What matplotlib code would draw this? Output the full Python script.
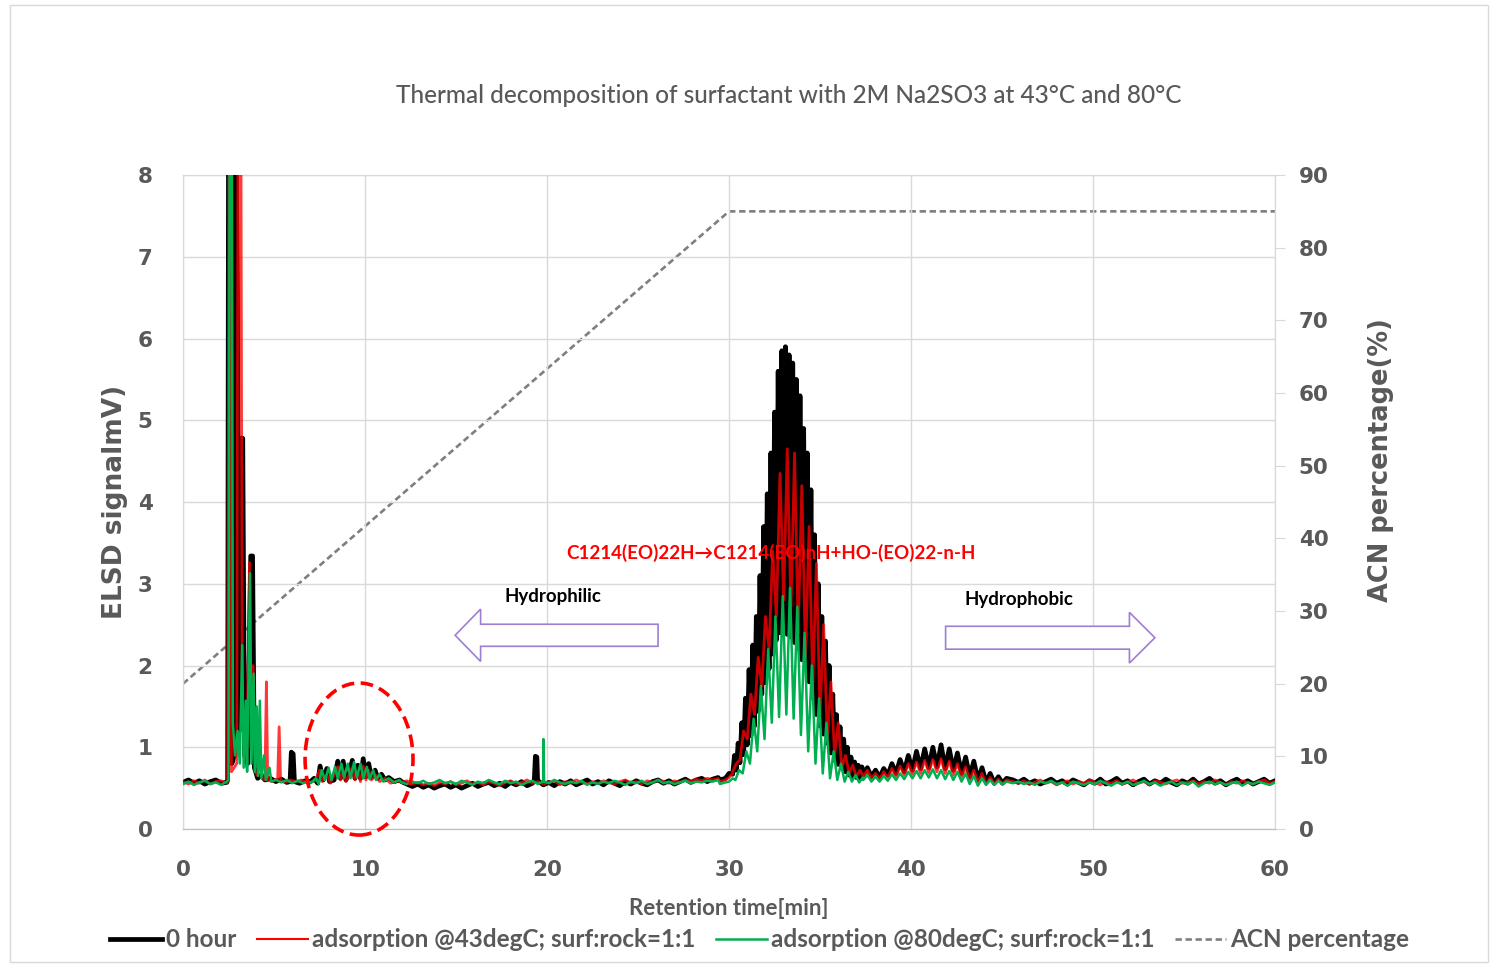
import numpy as np
import matplotlib
matplotlib.use("Agg")
import matplotlib.pyplot as plt
from matplotlib.patches import Ellipse, FancyArrow, Rectangle

# ---- baseline stretches, values in hundredths of mV ----
base_a_t = [0.0, 0.3, 0.6, 0.9, 1.2, 1.5, 1.8, 2.1, 2.4]
black_a = [57, 60, 56, 59, 55, 58, 60, 56, 57]
red_a = [58, 55, 59, 56, 60, 55, 58, 59, 56]
green_a = [55, 58, 54, 57, 59, 55, 57, 54, 58]

# 12.0 - 29.4 min
black_d = [58, 55, 52, 55, 51, 54, 50, 53, 55, 51, 54, 50, 53, 56, 52, 55, 57, 53, 56, 52,
           57, 54, 58, 53, 56, 59, 54, 57, 53, 58, 55, 59, 54, 57, 60, 55, 58, 54, 59, 56,
           53, 58, 55, 59, 56, 54, 58, 60, 56, 59, 55, 58, 61, 57, 60, 62, 58, 61, 63]
red_d = [57, 59, 55, 57, 54, 56, 53, 57, 55, 58, 54, 56, 59, 55, 57, 54, 58, 56, 53, 57,
         59, 55, 57, 60, 56, 58, 55, 57, 59, 54, 58, 56, 60, 57, 55, 58, 56, 59, 57, 55,
         58, 60, 56, 58, 55, 59, 57, 60, 58, 56, 59, 57, 60, 58, 61, 59, 62, 60, 62]
green_d = [57, 55, 58, 56, 59, 55, 57, 60, 56, 58, 55, 59, 57, 54, 58, 56, 60, 57, 55, 59,
           56, 58, 54, 57, 59, 55, 58, 56, 60, 57, 55, 58, 56, 59, 54, 57, 55, 58, 56, 59,
           57, 54, 58, 56, 59, 55, 57, 60, 56, 58, 55, 57, 59, 56, 58, 57, 59, 58, 60]

# 45.6 - 60 min
black_g = [60, 57, 61, 56, 59, 55, 58, 61, 56, 59, 55, 60, 57, 54, 59, 56, 61, 55, 58, 62,
           56, 59, 54, 58, 61, 55, 59, 56, 61, 57, 54, 59, 56, 61, 55, 58, 62, 56, 59, 54,
           58, 61, 56, 59, 55, 58, 61, 56, 59]
red_g = [58, 56, 59, 55, 57, 60, 56, 58, 54, 57, 59, 55, 58, 56, 60, 57, 54, 58, 56, 59,
         55, 57, 60, 56, 58, 54, 59, 57, 55, 58, 60, 56, 57, 59, 55, 58, 56, 60, 57, 54,
         58, 56, 59, 57, 55, 58, 60, 56, 58]
green_g = [56, 58, 55, 57, 54, 58, 56, 59, 55, 57, 53, 58, 56, 54, 57, 55, 59, 56, 53, 57,
           55, 58, 54, 56, 59, 55, 57, 53, 56, 58, 54, 57, 55, 58, 52, 56, 58, 55, 57, 54,
           56, 58, 53, 57, 55, 58, 56, 54, 57]

# ---- early peaks and the small oligomer bumps (time, mV) ----
black_early = [(2.45, 0.6), (2.5, 8.6), (2.62, 8.6), (2.68, 0.8), (2.82, 0.9), (2.88, 8.6),
               (2.95, 8.6), (3.08, 1.2), (3.18, 4.78), (3.28, 4.78), (3.38, 0.9), (3.55, 0.8),
               (3.72, 3.34), (3.82, 3.34), (3.92, 0.75), (4.1, 0.62), (4.3, 0.66), (4.5, 0.6),
               (4.8, 0.62), (5.1, 0.58), (5.4, 0.61), (5.7, 0.57), (5.88, 0.58), (5.95, 0.94),
               (6.05, 0.92), (6.12, 0.58), (6.4, 0.56), (6.7, 0.59),
               (7.0, 0.58), (7.2, 0.62), (7.4, 0.56), (7.53, 0.77), (7.7, 0.6), (7.9, 0.74),
               (8.05, 0.58), (8.3, 0.6), (8.5, 0.83), (8.65, 0.62), (8.8, 0.83), (8.95, 0.6),
               (9.15, 0.7), (9.3, 0.84), (9.45, 0.62), (9.6, 0.78), (9.75, 0.62), (9.9, 0.86),
               (10.05, 0.64), (10.2, 0.8), (10.35, 0.63), (10.55, 0.72), (10.7, 0.62),
               (10.9, 0.67), (11.1, 0.6), (11.3, 0.63), (11.6, 0.58), (11.9, 0.6),
               (19.3, 0.6), (19.36, 0.89), (19.44, 0.88), (19.48, 0.6),
               (29.5, 0.6), (29.8, 0.62), (30.0, 0.68)]
red_early = [(2.45, 0.6), (2.52, 8.6), (2.6, 8.6), (2.66, 0.7), (2.95, 0.8), (3.02, 8.6),
             (3.18, 8.6), (3.25, 1.5), (3.35, 1.0), (3.5, 0.75), (3.65, 3.26), (3.72, 1.0),
             (3.85, 2.0), (3.95, 0.7), (4.1, 0.65), (4.25, 0.9), (4.35, 0.62), (4.5, 0.6),
             (4.58, 1.8), (4.65, 0.6), (4.9, 0.58), (5.2, 0.62), (5.28, 1.25), (5.36, 0.6),
             (5.6, 0.57), (5.9, 0.6), (6.2, 0.58), (6.5, 0.6), (6.8, 0.57),
             (7.0, 0.57), (7.3, 0.6), (7.5, 0.72), (7.65, 0.58), (7.9, 0.66), (8.1, 0.56),
             (8.5, 0.76), (8.65, 0.6), (8.8, 0.72), (8.95, 0.58), (9.3, 0.75), (9.45, 0.6),
             (9.6, 0.7), (9.75, 0.58), (9.9, 0.77), (10.05, 0.6), (10.2, 0.72), (10.35, 0.6),
             (10.6, 0.66), (10.8, 0.58), (11.1, 0.62), (11.4, 0.56), (11.8, 0.59),
             (29.5, 0.58), (29.8, 0.6), (30.0, 0.63), (30.2, 0.68)]
green_early = [(2.5, 0.6), (2.56, 8.6), (2.68, 8.6), (2.74, 1.3), (2.85, 0.9), (3.0, 1.2),
               (3.12, 0.8), (3.25, 2.25), (3.33, 0.75), (3.45, 1.57), (3.52, 0.7), (3.68, 3.13),
               (3.76, 0.8), (3.88, 1.9), (3.95, 0.7), (4.05, 1.5), (4.12, 0.65), (4.22, 1.57),
               (4.3, 0.62), (4.45, 0.9), (4.55, 0.6), (4.75, 0.75), (4.85, 0.58), (5.1, 0.6),
               (5.4, 0.57), (5.7, 0.6), (6.0, 0.56), (6.3, 0.59), (6.6, 0.56), (6.9, 0.58),
               (7.0, 0.56), (7.3, 0.62), (7.45, 0.55), (7.62, 0.72), (7.8, 0.6), (8.0, 0.75),
               (8.15, 0.6), (8.35, 0.76), (8.5, 0.62), (8.7, 0.8), (8.85, 0.63), (9.05, 0.8),
               (9.2, 0.62), (9.4, 0.82), (9.55, 0.63), (9.75, 0.8), (9.9, 0.62), (10.1, 0.76),
               (10.25, 0.61), (10.45, 0.72), (10.6, 0.6), (10.8, 0.67), (11.0, 0.58),
               (11.3, 0.62), (11.6, 0.57), (11.9, 0.6),
               (19.76, 0.58), (19.8, 1.1), (19.84, 0.58),
               (29.5, 0.55), (29.8, 0.57), (30.0, 0.58), (30.2, 0.62)]

# ---- main EO oligomer peak (30-37 min): tooth apex and trough before it ----
# 0 hour trace is sampled more densely, its teeth merge into a solid band
black_main_t = [30.3, 30.5, 30.7, 30.9, 31.1, 31.3, 31.5, 31.7, 31.9, 32.1, 32.3, 32.5,
                32.7, 32.9, 33.1, 33.3, 33.5, 33.7, 33.9, 34.1, 34.3, 34.5, 34.7, 34.9,
                35.1, 35.3, 35.5, 35.7, 35.9, 36.1, 36.3, 36.5, 36.7, 36.9, 37.1, 37.3]
black_main = [0.9, 1.05, 1.3, 1.6, 1.95, 2.25, 2.6, 3.1, 3.7, 4.1, 4.6, 5.1,
              5.6, 5.85, 5.9, 5.8, 5.7, 5.5, 5.3, 4.9, 4.6, 4.15, 3.6, 3.0,
              2.6, 2.3, 2.0, 1.65, 1.4, 1.25, 1.1, 1.0, 0.88, 0.82, 0.78, 0.76]
black_main_low = [0.67, 0.72, 0.81, 0.91, 1.03, 1.14, 1.26, 1.44, 1.65, 1.79, 1.96, 2.14,
                  2.31, 2.4, 2.42, 2.38, 2.35, 2.28, 2.21, 2.07, 1.96, 1.8, 1.61, 1.4,
                  1.26, 1.16, 1.05, 0.93, 0.84, 0.79, 0.74, 0.7, 0.66, 0.64, 0.63, 0.62]
main_t = [30.4, 30.8, 31.2, 31.6, 32.0, 32.4, 32.8, 33.2, 33.6, 34.0, 34.4, 34.8,
          35.2, 35.6, 36.0, 36.4, 36.8, 37.2]
red_main = [0.8, 1.2, 1.65, 2.1, 2.6, 3.4, 4.35, 4.65, 4.6, 4.2, 3.7, 3.25,
            2.5, 1.8, 1.3, 0.9, 0.78, 0.72]
red_main_low = [0.7, 0.85, 1.1, 1.4, 1.75, 2.2, 2.6, 2.8, 2.7, 2.4, 2.1, 1.75,
                1.4, 1.1, 0.9, 0.75, 0.68, 0.64]
green_main_t = [30.55, 30.95, 31.35, 31.75, 32.15, 32.55, 32.95, 33.35, 33.75, 34.15,
                34.55, 34.95, 35.35, 35.75, 36.15, 36.55, 36.95, 37.35]
green_main = [0.72, 0.95, 1.35, 1.75, 2.2, 2.6, 2.85, 2.95, 2.72, 2.4, 2.0, 1.6,
              1.3, 0.95, 0.8, 0.7, 0.66, 0.63]
green_main_low = [0.6, 0.68, 0.8, 0.95, 1.1, 1.3, 1.37, 1.4, 1.35, 1.15, 0.95, 0.8,
                  0.68, 0.62, 0.6, 0.58, 0.58, 0.57]

# ---- second, smaller hump (38-45 min) ----
hump_t = [37.6, 38.05, 38.5, 38.95, 39.4, 39.85, 40.3, 40.75, 41.2, 41.65, 42.1, 42.55,
          43.0, 43.45, 43.9, 44.35, 44.8, 45.25]
black_hump = [0.75, 0.72, 0.74, 0.8, 0.85, 0.9, 0.95, 0.98, 1.0, 1.03, 0.98, 0.93,
              0.88, 0.83, 0.75, 0.68, 0.64, 0.62]
black_hump_low = [0.66, 0.64, 0.63, 0.66, 0.68, 0.7, 0.72, 0.74, 0.75, 0.76, 0.74, 0.72,
                  0.68, 0.64, 0.6, 0.57, 0.56, 0.56]
red_hump = [0.72, 0.68, 0.7, 0.74, 0.77, 0.8, 0.82, 0.84, 0.85, 0.86, 0.83, 0.8,
            0.76, 0.72, 0.68, 0.63, 0.61, 0.6]
red_hump_low = [0.64, 0.62, 0.61, 0.63, 0.64, 0.66, 0.67, 0.68, 0.69, 0.7, 0.68, 0.66,
                0.64, 0.6, 0.57, 0.55, 0.55, 0.55]
green_hump = [0.66, 0.64, 0.65, 0.67, 0.68, 0.7, 0.71, 0.72, 0.73, 0.72, 0.71, 0.7,
              0.68, 0.65, 0.62, 0.6, 0.59, 0.58]
green_hump_low = [0.6, 0.58, 0.58, 0.59, 0.6, 0.61, 0.62, 0.62, 0.63, 0.62, 0.61, 0.6,
                  0.58, 0.55, 0.53, 0.54, 0.54, 0.55]

# ---- ACN gradient ----
acn_t = [0, 30, 60]
acn_pct = [20, 85, 85]


def teeth(apex_t, apex_v, low_v, half):
    # trough a little before each apex
    t, v = [], []
    for at, av, lv in zip(apex_t, apex_v, low_v):
        t += [at - half, at]
        v += [lv, av]
    return t, v


def build(base_a, base_d, base_g, early, m_t, m_hi, m_lo, half, h_hi, h_lo):
    t = list(base_a_t) + list(np.linspace(12.0, 29.4, len(base_d))) + \
        list(np.linspace(45.6, 60.0, len(base_g)))
    v = [x / 100 for x in base_a + base_d + base_g]
    t += [p[0] for p in early]
    v += [p[1] for p in early]
    mt, mv = teeth(m_t, m_hi, m_lo, half)
    ht, hv = teeth(hump_t, h_hi, h_lo, 0.225)
    t += mt + ht
    v += mv + hv
    t = np.array(t)
    v = np.array(v)
    order = np.argsort(t, kind="stable")
    return t[order], v[order]


black_t, black_v = build(black_a, black_d, black_g, black_early, black_main_t,
                         black_main, black_main_low, 0.1, black_hump, black_hump_low)
red_t, red_v = build(red_a, red_d, red_g, red_early, main_t,
                     red_main, red_main_low, 0.2, red_hump, red_hump_low)
green_t, green_v = build(green_a, green_d, green_g, green_early, green_main_t,
                         green_main, green_main_low, 0.2, green_hump, green_hump_low)

GREY = "#595959"
GRID = "#d9d9d9"

fig = plt.figure(figsize=(14.93, 9.67), dpi=100)
fig.patches.append(Rectangle((10 / 1493, 5 / 967), 1478 / 1493, 957 / 967,
                             transform=fig.transFigure, fill=False,
                             edgecolor=GRID, lw=1))
ax = fig.add_axes([0.1226, 0.1427, 0.7314, 0.6763])
ax2 = ax.twinx()
ax.set_zorder(ax2.get_zorder() + 1)
ax.patch.set_visible(False)

l0, = ax.plot(black_t, black_v, color="black", lw=3.4, label="0 hour", zorder=3)
l1, = ax.plot(red_t, red_v, color="#ff0000", alpha=0.78, lw=2.0,
              label="adsorption @43degC; surf:rock=1:1", zorder=4)
l2, = ax.plot(green_t, green_v, color="#00b050", lw=1.8,
              label="adsorption @80degC; surf:rock=1:1", zorder=5)
l3, = ax2.plot(acn_t, acn_pct, color="#7f7f7f", lw=1.9, dashes=(2.4, 1.4),
               label="ACN percentage")

ax.set_xlim(0, 60)
ax.set_ylim(0, 8)
ax2.set_ylim(0, 90)
ax.set_xticks(range(0, 61, 10))
ax.set_yticks(range(0, 9))
ax2.set_yticks(range(0, 91, 10))
ax.grid(True, color=GRID, lw=1)
ax.set_axisbelow(True)

tick_font = dict(family="DejaVu Sans", weight="bold", size=15.5)
for a in (ax, ax2):
    for s in a.spines.values():
        s.set_color(GRID)
    a.spines["bottom"].set_color("#bfbfbf")
ax.tick_params(axis="y", length=0, pad=22, labelcolor=GREY)
ax.tick_params(axis="x", length=0, pad=22, labelcolor=GREY)
ax2.tick_params(axis="y", length=7, color=GRID, pad=10, labelcolor=GREY)
for lab in ax.get_xticklabels() + ax.get_yticklabels() + ax2.get_yticklabels():
    lab.set_fontproperties(tick_font)

ax.set_ylabel("ELSD signalmV)", family="DejaVu Sans", weight="bold", size=19, color=GREY)
ax.yaxis.set_label_coords(-0.050, 0.5)
ax2.set_ylabel("ACN percentage(%)", family="DejaVu Sans", weight="bold", size=18.5,
               color=GREY)
ax2.yaxis.set_label_coords(1.085, 0.564)
ax.set_xlabel("Retention time[min]", family="Lato", weight="bold", size=16, color=GREY)
ax.xaxis.set_label_coords(0.5, -0.105)

fig.text(0.528, 0.901, "Thermal decomposition of surfactant with 2M Na2SO3 at 43\u00b0C and 80\u00b0C",
         ha="center", va="center", family="Lato", weight="medium", size=17.6, color=GREY)

# annotations
ax.text(32.28, 3.38, "C1214(EO)22H\u2192C1214(EO)nH+HO-(EO)22-n-H", color="#ff0000",
        family="Lato", weight="bold", size=13.5, ha="center", va="center", zorder=6)
ax.text(20.33, 2.84, "Hydrophilic", family="Lato", weight="bold", size=13.5,
        ha="center", va="center", color="black", zorder=6)
ax.text(45.93, 2.81, "Hydrophobic", family="Lato", weight="bold", size=13.5,
        ha="center", va="center", color="black", zorder=6)
ax.add_patch(FancyArrow(26.1, 2.37, -11.15, 0, width=0.27, head_width=0.64,
                        head_length=1.4, length_includes_head=True,
                        facecolor="white", edgecolor="#9f7fd0", lw=1.2, zorder=6))
ax.add_patch(FancyArrow(41.9, 2.34, 11.5, 0, width=0.28, head_width=0.62,
                        head_length=1.4, length_includes_head=True,
                        facecolor="white", edgecolor="#9f7fd0", lw=1.2, zorder=6))
ax.add_patch(Ellipse((9.67, 0.856), 5.93, 1.86, fill=False, edgecolor="#ff0000",
                     lw=2.6, linestyle=(0, (3.5, 1.8)), clip_on=False, zorder=7))

leg = fig.legend(handles=[l0, l1, l2, l3], loc="center", bbox_to_anchor=(0.509, 0.028),
                 ncol=4, frameon=False, handlelength=2.1, handletextpad=0.17,
                 columnspacing=0.85, prop=dict(family="Lato", weight="bold", size=17.5))
for t in leg.get_texts():
    t.set_color(GREY)
for h in leg.legend_handles:
    h.set_alpha(1)
leg.legend_handles[1].set_linewidth(1.5)

fig.savefig("out.png", dpi=100)
